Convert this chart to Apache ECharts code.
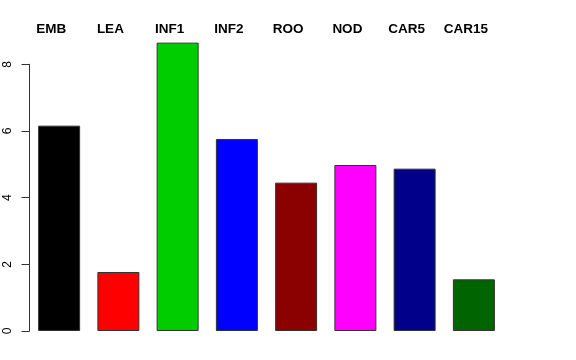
<!DOCTYPE html>
<html>
<head>
<meta charset="utf-8">
<script src="https://cdn.jsdelivr.net/npm/echarts@6/dist/echarts.min.js"></script>
<style>html,body{margin:0;padding:0;background:#fff}#c{width:576px;height:360px}</style>
</head>
<body>
<div id="c"></div>
<script>
var categories = ['EMB', 'LEA', 'INF1', 'INF2', 'ROO', 'NOD', 'CAR5', 'CAR15'];
var values = [6.16, 1.77, 8.65, 5.76, 4.45, 4.98, 4.87, 1.55];
var yTicks = [0, 2, 4, 6, 8];
var barColors = ['#000000', '#FF0000', '#00CD00', '#0000FF', '#8B0000', '#FF00FF', '#00008B', '#006400'];

var chart = echarts.init(document.getElementById('c'), null, {renderer: 'canvas'});
chart.setOption({
  animation: false,
  backgroundColor: '#ffffff',
  grid: {left: 29.5, right: 72.5, top: 64.3, bottom: 29, containLabel: false},
  xAxis: {
    type: 'category',
    position: 'top',
    data: categories,
    axisLine: {show: false},
    axisTick: {show: false},
    axisLabel: {
      interval: 0,
      margin: 28,
      fontFamily: 'Liberation Sans, Arial, sans-serif',
      fontWeight: 'bold',
      fontSize: 13.5,
      color: '#000',
      padding: [0, 16, 0, 0]
    }
  },
  yAxis: {
    type: 'value',
    min: yTicks[0],
    max: yTicks[yTicks.length - 1],
    interval: 2,
    splitLine: {show: false},
    axisLine: {show: true, lineStyle: {color: '#333', width: 1}},
    axisTick: {show: true, length: 8, lineStyle: {color: '#333', width: 1}},
    axisLabel: {
      rotate: 90,
      margin: 16,
      fontFamily: 'Liberation Sans, Arial, sans-serif',
      fontSize: 12,
      color: '#000'
    }
  },
  series: [{
    type: 'bar',
    clip: false,
    barWidth: 42,
    data: values.map(function (v, i) {
      return {value: v, itemStyle: {color: barColors[i]}};
    }),
    itemStyle: {borderColor: '#333', borderWidth: 1}
  }]
});
</script>
</body>
</html>
